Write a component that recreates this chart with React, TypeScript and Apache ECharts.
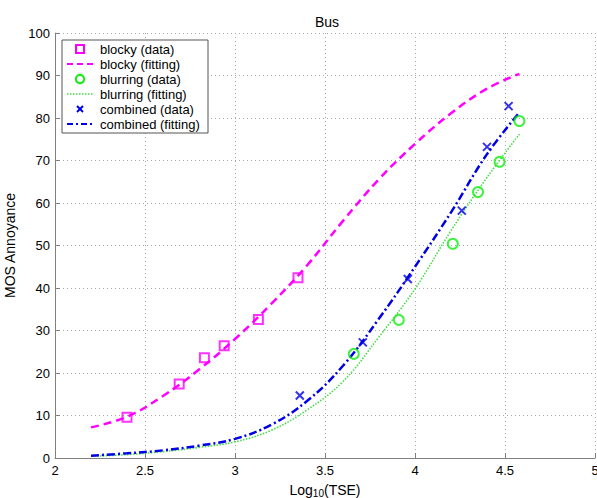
import React, { useEffect, useRef } from "react";
import * as echarts from "echarts";

const blockyX = [2.40, 2.69, 2.83, 2.94, 3.13, 3.35];
const blockyY = [9.6, 17.4, 23.6, 26.4, 32.6, 42.4];
const blurX = [3.66, 3.91, 4.21, 4.35, 4.47, 4.58];
const blurY = [24.5, 32.5, 50.4, 62.6, 69.7, 79.3];
const combX = [3.36, 3.71, 3.96, 4.26, 4.40, 4.52];
const combY = [14.7, 27.2, 42.1, 58.2, 73.2, 82.8];

const fitX = [2.2, 2.4, 2.6, 2.8, 3.0, 3.2, 3.4, 3.6, 3.8, 4.0, 4.2, 4.4, 4.58];
const blockyFit = [7.2, 9.7, 14.6, 20.8, 28.0, 36.2, 45.3, 55.8, 65.6, 73.9, 81.1, 86.9, 90.4];
const blurFit = [0.4, 0.8, 1.5, 2.5, 3.8, 6.5, 11.3, 18.0, 28.5, 39.8, 53.5, 66.0, 76.2];
const combFit = [0.55, 1.1, 1.8, 2.9, 4.5, 7.8, 13.4, 21.7, 32.8, 45.0, 57.8, 71.5, 81.3];

const xTicks = { min: 2, max: 5, interval: 0.5 };
const yTicks = { min: 0, max: 100, interval: 10 };

const MAG = "#ff00ff";
const GRN = "#11ee11";
const GRNL = "#44dd44";
const BLU = "#0000e6";
const FONT = "Liberation Sans, Arial, sans-serif";

const zip = (xs: number[], ys: number[]) => xs.map((x, i) => [x, ys[i]]);

export default function App() {
  const ref = useRef<HTMLDivElement>(null);
  useEffect(() => {
    document.body.style.margin = "0";
    const chart = echarts.init(ref.current!, null, { renderer: "svg" });
    const axisCommon = {
      axisLine: { show: true, lineStyle: { color: "#808080", width: 1 } },
      axisTick: { show: true, inside: true, length: 5, lineStyle: { color: "#808080" } },
      splitLine: { show: true, lineStyle: { color: "#a8a8a8", type: [1, 3], width: 1 } },
      axisLabel: { color: "#000", fontSize: 13, fontFamily: FONT },
    };
    const legendRows = [49, 64, 79, 94, 109, 124];
    const labels = [
      "blocky (data)",
      "blocky (fitting)",
      "blurring (data)",
      "blurring (fitting)",
      "combined (data)",
      "combined (fitting)",
    ];
    const graphics: any[] = [
      {
        type: "rect",
        shape: { x: 62, y: 40, width: 146, height: 93 },
        style: { fill: "#fff", stroke: "#555", lineWidth: 1 },
        z: 100,
      },
      ...labels.map((t, i) => ({
        type: "text",
        x: 100,
        y: legendRows[i],
        style: { text: t, fontSize: 13, fontFamily: FONT, fill: "#000", verticalAlign: "middle" },
        z: 101,
      })),
      {
        type: "rect",
        shape: { x: 76, y: legendRows[0] - 4, width: 8, height: 8 },
        style: { fill: "none", stroke: MAG, lineWidth: 2 },
        z: 101,
      },
      {
        type: "line",
        shape: { x1: 67, y1: legendRows[1], x2: 93, y2: legendRows[1] },
        style: { stroke: MAG, lineWidth: 2, lineDash: [6, 4] },
        z: 101,
      },
      {
        type: "circle",
        shape: { cx: 80, cy: legendRows[2], r: 4.2 },
        style: { fill: "none", stroke: GRN, lineWidth: 2 },
        z: 101,
      },
      {
        type: "line",
        shape: { x1: 67, y1: legendRows[3], x2: 93, y2: legendRows[3] },
        style: { stroke: GRNL, lineWidth: 1.5, lineDash: [1.5, 1.5] },
        z: 101,
      },
      {
        type: "line",
        shape: { x1: 77, y1: legendRows[4] - 3, x2: 83, y2: legendRows[4] + 3 },
        style: { stroke: BLU, lineWidth: 2 },
        z: 101,
      },
      {
        type: "line",
        shape: { x1: 83, y1: legendRows[4] - 3, x2: 77, y2: legendRows[4] + 3 },
        style: { stroke: BLU, lineWidth: 2 },
        z: 101,
      },
      {
        type: "line",
        shape: { x1: 67, y1: legendRows[5], x2: 93, y2: legendRows[5] },
        style: { stroke: BLU, lineWidth: 2, lineDash: [6, 3, 2, 3] },
        z: 101,
      },
    ];
    chart.setOption({
      animation: false,
      backgroundColor: "#fff",
      title: {
        text: "Bus",
        left: 310,
        top: 10,
        textStyle: { fontSize: 14, fontWeight: "normal", color: "#000", fontFamily: FONT },
      },
      grid: { left: 55, right: 2, top: 33, bottom: 40, containLabel: false, outerBoundsMode: "none" },
      xAxis: {
        type: "value",
        ...xTicks,
        ...axisCommon,
        axisLabel: { ...axisCommon.axisLabel, margin: 6, showMaxLabel: true },
        name: "{a|Log}{s|10}{a|(TSE)}",
        nameLocation: "middle",
        nameGap: 18,
        nameTextStyle: {
          rich: {
            a: { fontSize: 14, fontFamily: FONT, color: "#000", lineHeight: 16, verticalAlign: "top" },
            s: { fontSize: 10, fontFamily: FONT, color: "#000", lineHeight: 12, verticalAlign: "bottom", padding: [7, 0, 0, 0] },
          },
        },
      },
      yAxis: {
        type: "value",
        ...yTicks,
        ...axisCommon,
        axisLabel: { ...axisCommon.axisLabel, margin: 5 },
        name: "MOS Annoyance",
        nameLocation: "middle",
        nameGap: 31,
        nameTextStyle: { fontSize: 14, fontFamily: FONT, color: "#000" },
      },
      graphic: graphics,
      series: [
        {
          name: "blocky (fitting)",
          type: "line",
          data: zip(fitX, blockyFit),
          showSymbol: false,
          symbol: "none",
          smooth: 0.4,
          lineStyle: { color: MAG, width: 2.5, type: [8, 5] },
          z: 2,
        },
        {
          name: "blurring (fitting)",
          type: "line",
          data: zip(fitX, blurFit),
          symbol: "none",
          smooth: 0.4,
          lineStyle: { color: GRNL, width: 1.6, type: [1.5, 1.5] },
          z: 2,
        },
        {
          name: "combined (fitting)",
          type: "line",
          data: zip(fitX, combFit),
          symbol: "none",
          smooth: 0.4,
          lineStyle: { color: BLU, width: 2.5, type: [8, 3, 2, 3] },
          z: 2,
        },
        {
          name: "blocky (data)",
          type: "scatter",
          data: zip(blockyX, blockyY),
          symbol: "rect",
          symbolSize: 9,
          itemStyle: { color: "rgba(255,255,255,0)", borderColor: MAG, borderWidth: 2 },
          z: 3,
        },
        {
          name: "blurring (data)",
          type: "scatter",
          data: zip(blurX, blurY),
          symbol: "circle",
          symbolSize: 10,
          itemStyle: { color: "rgba(255,255,255,0)", borderColor: GRN, borderWidth: 2 },
          z: 3,
        },
        {
          name: "combined (data)",
          type: "scatter",
          data: zip(combX, combY),
          symbol: "path://M0,0L10,10M10,0L0,10",
          symbolSize: 8,
          itemStyle: { color: "none", borderColor: BLU, borderWidth: 2 },
          z: 3,
        },
      ],
    });
    return () => chart.dispose();
  }, []);
  return <div ref={ref} style={{ width: 597, height: 498 }} />;
}
